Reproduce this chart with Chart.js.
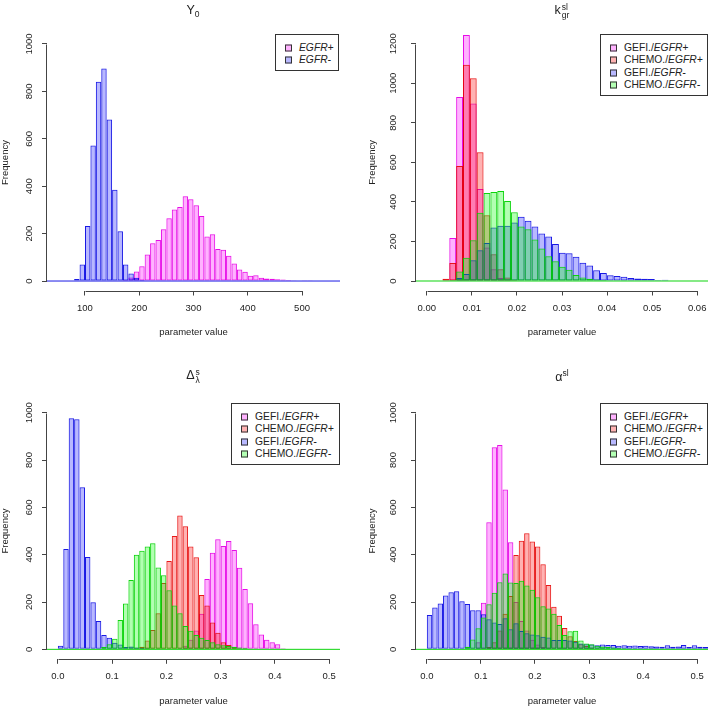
<!DOCTYPE html>
<html>
<head>
<meta charset="utf-8">
<script src="https://cdn.jsdelivr.net/npm/chart.js"></script>
<style>
  body { margin: 0; background: #fff; width: 709px; height: 708px; position: relative; overflow: hidden;
         font-family: 'Liberation Sans', Arial, sans-serif; color: #222; }
  canvas { position: absolute; }
  .title { position: absolute; font-size: 12.5px; line-height: 1; white-space: nowrap; transform: translate(-50%, -50%); }
  .title sub, .title sup { font-size: 8.5px; }
  .ss { display: inline-block; vertical-align: middle; font-size: 8.5px; line-height: 8px; margin-left: 1px; }
  .ss span { display: block; }
  .legend { position: absolute; box-sizing: border-box; border: 1px solid #333; background: #fff; font-size: 10.3px; }
  .legend .row { position: absolute; left: 23px; height: 12px; line-height: 12px; white-space: nowrap; transform: translateY(-50%); }
  .legend .sw { position: absolute; left: 9px; width: 7px; height: 7px; box-sizing: border-box; border: 1px solid #333; transform: translateY(-50%); }
</style>
</head>
<body>
<canvas id="c1" width="354" height="354" style="left:0;top:0"></canvas>
<canvas id="c2" width="355" height="354" style="left:354px;top:0"></canvas>
<canvas id="c3" width="354" height="354" style="left:0;top:354px"></canvas>
<canvas id="c4" width="355" height="354" style="left:354px;top:354px"></canvas>

<div class="title" style="left:193px;top:11px">Y<sub>0</sub></div>
<div class="title" style="left:562px;top:11px">k<span class="ss"><span>sl</span><span>gr</span></span></div>
<div class="title" style="left:193px;top:376px">&Delta;<span class="ss"><span>s</span><span>&lambda;</span></span></div>
<div class="title" style="left:562px;top:376px">&alpha;<sup>sl</sup></div>

<script>
// ---- Y0 panel: bins of 10 starting at 80
const y0BinStart = 80;
const y0BinWidth = 10;
const y0EgfrPos = [0, 0, 0, 0, 0, 0, 0, 0, 0, 4, 15, 40, 62, 112, 159, 173, 218, 265, 302, 312, 358, 345, 320, 274,
  188, 197, 135, 132, 107, 74, 49, 39, 22, 24, 14, 11, 10, 7, 6, 4, 3, 2, 1, 1];
const y0EgfrNeg = [8, 70, 232, 572, 841, 897, 681, 385, 210, 70, 32, 14, 4];
const y0XTicks = [100, 200, 300, 400, 500];
const y0XLabels = ['100', '200', '300', '400', '500'];
const y0YTicks = [0, 200, 400, 600, 800, 1000];

// ---- k_gr^sl panel
const kgrBinStart = 0.00347;
const kgrBinWidth = 0.00152;
const kgrGefiPos = [5, 217, 930, 1244, 897, 465, 170, 60, 15, 5, 2];
const kgrChemoPos = [12, 91, 582, 1093, 1025, 651, 333, 135, 60, 18, 5, 2];
const kgrGefiNeg = [0, 3, 15, 35, 105, 155, 192, 270, 280, 280, 296, 325, 305, 275, 240, 225, 187, 143, 140, 123,
  92, 79, 55, 40, 29, 25, 22, 15, 13, 12, 10, 5, 6, 3, 3, 2];
const kgrChemoNeg = [0, 5, 48, 118, 206, 345, 445, 450, 455, 405, 348, 275, 262, 210, 165, 125, 100, 72, 57, 30,
  18, 12, 8, 5, 3, 2, 1];
const kgrXTicks = [0, 0.01, 0.02, 0.03, 0.04, 0.05, 0.06];
const kgrXLabels = ['0.00', '0.01', '0.02', '0.03', '0.04', '0.05', '0.06'];
const kgrYTicks = [0, 200, 400, 600, 800, 1000, 1200];

// ---- Delta_lambda^s panel: bins of 0.01 from 0
const dlBinStart = 0;
const dlBinWidth = 0.01;
const dlGefiPos = [0, 0, 0, 0, 0, 0, 0, 0, 0, 0, 0, 0, 0, 0, 0, 0, 0, 0, 0, 0, 0, 0,
  5, 15, 40, 80, 150, 297, 408, 465, 437, 458, 420, 345, 255, 195, 106, 63, 40, 30, 21, 5, 2];
const dlChemoPos = [0, 0, 0, 0, 0, 0, 0, 0, 0, 0, 0, 0, 0,
  2, 5, 11, 37, 82, 152, 280, 373, 479, 566, 520, 435, 389, 230, 185, 113, 70, 30, 18, 8, 3, 1];
const dlGefiNeg = [15, 424, 976, 972, 685, 390, 199, 120, 61, 49, 28, 20, 10, 12, 8, 6, 5, 4, 3, 3, 2, 2, 1, 1];
const dlChemoNeg = [0, 0, 0, 0, 0, 0, 0, 3, 10, 22, 45, 124, 194, 293, 400, 417, 434, 448, 346, 313, 250, 185,
  152, 99, 79, 61, 49, 39, 30, 22, 17, 14, 11, 8, 6, 4, 3, 2, 1];
const dlXTicks = [0, 0.1, 0.2, 0.3, 0.4, 0.5];
const dlXLabels = ['0.0', '0.1', '0.2', '0.3', '0.4', '0.5'];
const dlYTicks = [0, 200, 400, 600, 800, 1000];

// ---- alpha^sl panel: bins of 0.01 from 0
const alBinStart = 0;
const alBinWidth = 0.01;
const alGefiPos = [0, 0, 0, 0, 0, 0, 0, 0, 0, 30, 197, 537, 854, 863, 675, 452, 200, 120, 80, 40, 20, 10, 5];
const alChemoPos = [0, 0, 0, 0, 0, 0, 0, 0, 0, 0, 3, 10, 30, 80, 150, 225, 399, 459, 490, 456, 434, 359, 272, 180,
  142, 90, 55, 35, 22, 14, 8, 5, 3, 2];
const alGefiNeg = [145, 177, 194, 227, 241, 245, 203, 192, 165, 165, 148, 127, 113, 107, 131, 85, 110, 77, 68, 63,
  60, 53, 50, 39, 39, 39, 37, 32, 25, 22, 20, 17, 20, 18, 18, 15, 17, 15, 16, 14, 15, 13, 12, 11, 17, 11, 12, 18,
  10, 17, 11, 10];
const alChemoNeg = [0, 0, 0, 0, 0, 0, 3, 11, 42, 89, 135, 190, 239, 283, 320, 282, 280, 290, 270, 252, 220, 182,
  173, 150, 103, 61, 76, 79, 37, 25, 22, 15, 12, 10, 8, 6, 5, 4, 3, 2, 2, 1];
const alXTicks = [0, 0.1, 0.2, 0.3, 0.4, 0.5];
const alXLabels = ['0.0', '0.1', '0.2', '0.3', '0.4', '0.5'];
const alYTicks = [0, 200, 400, 600, 800, 1000];

const FONT = "'Liberation Sans', Arial, sans-serif";
const axisColor = '#444';
const textColor = '#222';

const colors = {
  pink:  { fill: 'rgba(255, 0, 255, 0.3)', line: 'rgba(230, 0, 230, 0.95)' },
  red:   { fill: 'rgba(255, 0, 0, 0.3)',   line: 'rgba(230, 0, 0, 0.9)' },
  blue:  { fill: 'rgba(0, 0, 255, 0.28)',  line: 'rgba(0, 0, 225, 0.9)' },
  green: { fill: 'rgba(0, 255, 0, 0.3)',   line: 'rgba(0, 210, 0, 0.95)' }
};

// R style axis lines: only from the first to the last tick
const rAxisLines = {
  id: 'rAxisLines',
  afterDraw(chart) {
    const { ctx, chartArea, scales: { x, y } } = chart;
    const xt = x.ticks, yt = y.ticks;
    ctx.save();
    ctx.strokeStyle = axisColor;
    ctx.lineWidth = 1;
    ctx.beginPath();
    const yb = Math.round(chartArea.bottom) + 0.5;
    ctx.moveTo(Math.round(x.getPixelForValue(xt[0].value)) + 0.5, yb);
    ctx.lineTo(Math.round(x.getPixelForValue(xt[xt.length - 1].value)) + 0.5, yb);
    const xl = Math.round(chartArea.left) - 0.5;
    ctx.moveTo(xl, Math.round(y.getPixelForValue(yt[0].value)) + 0.5);
    ctx.lineTo(xl, Math.round(y.getPixelForValue(yt[yt.length - 1].value)) + 0.5);
    ctx.stroke();
    ctx.restore();
  }
};

const panels = [
  {
    id: 'c1', binStart: y0BinStart, binWidth: y0BinWidth,
    series: [
      { pre: '', it: 'EGFR+', counts: y0EgfrPos, color: 'pink' },
      { pre: '', it: 'EGFR-', counts: y0EgfrNeg, color: 'blue' }
    ],
    xMin: 30, xMax: 570, yMin: -40, yMax: 1040,
    xTicks: y0XTicks, xLabels: y0XLabels, yTicks: y0YTicks,
    yAxisW: 47, padRight: 14, padTop: 34.5, padBottom: 15.5, yTickPad: 2, yTitlePad: 0,
    legend: { left: 275, top: 34, width: 64, height: 37 }
  },
  {
    id: 'c2', binStart: kgrBinStart, binWidth: kgrBinWidth,
    series: [
      { pre: 'GEFI./', it: 'EGFR+', counts: kgrGefiPos, color: 'pink' },
      { pre: 'CHEMO./', it: 'EGFR+', counts: kgrChemoPos, color: 'red' },
      { pre: 'GEFI./', it: 'EGFR-', counts: kgrGefiNeg, color: 'blue' },
      { pre: 'CHEMO./', it: 'EGFR-', counts: kgrChemoNeg, color: 'green' }
    ],
    xMin: -0.0024, xMax: 0.0624, yMin: -48, yMax: 1248,
    xTicks: kgrXTicks, xLabels: kgrXLabels, yTicks: kgrYTicks,
    yAxisW: 62, padRight: 1, padTop: 34.2, padBottom: 15.5, yTickPad: 7, yTitlePad: 13,
    legend: { left: 600, top: 34, width: 108, height: 62 }
  },
  {
    id: 'c3', binStart: dlBinStart, binWidth: dlBinWidth,
    series: [
      { pre: 'GEFI./', it: 'EGFR+', counts: dlGefiPos, color: 'pink' },
      { pre: 'CHEMO./', it: 'EGFR+', counts: dlChemoPos, color: 'red' },
      { pre: 'GEFI./', it: 'EGFR-', counts: dlGefiNeg, color: 'blue' },
      { pre: 'CHEMO./', it: 'EGFR-', counts: dlChemoNeg, color: 'green' }
    ],
    xMin: -0.02, xMax: 0.52, yMin: -40, yMax: 1040,
    xTicks: dlXTicks, xLabels: dlXLabels, yTicks: dlYTicks,
    yAxisW: 47, padRight: 14, padTop: 49.2, padBottom: 1.2, yTickPad: 2, yTitlePad: 0,
    legend: { left: 231, top: 403, width: 109, height: 62 }
  },
  {
    id: 'c4', binStart: alBinStart, binWidth: alBinWidth,
    series: [
      { pre: 'GEFI./', it: 'EGFR+', counts: alGefiPos, color: 'pink' },
      { pre: 'CHEMO./', it: 'EGFR+', counts: alChemoPos, color: 'red' },
      { pre: 'GEFI./', it: 'EGFR-', counts: alGefiNeg, color: 'blue' },
      { pre: 'CHEMO./', it: 'EGFR-', counts: alChemoNeg, color: 'green' }
    ],
    xMin: -0.02, xMax: 0.52, yMin: -40, yMax: 1040,
    xTicks: alXTicks, xLabels: alXLabels, yTicks: alYTicks,
    yAxisW: 62, padRight: 1, padTop: 49.2, padBottom: 1.2, yTickPad: 7, yTitlePad: 13,
    legend: { left: 600, top: 403, width: 108, height: 62 }
  }
];

function buildLegend(p) {
  const box = document.createElement('div');
  box.className = 'legend';
  Object.assign(box.style, {
    left: p.legend.left + 'px', top: p.legend.top + 'px',
    width: p.legend.width + 'px', height: p.legend.height + 'px'
  });
  p.series.forEach((s, i) => {
    const cy = 12.5 + 12.5 * i;
    const sw = document.createElement('div');
    sw.className = 'sw';
    sw.style.top = cy + 'px';
    sw.style.background = colors[s.color].fill;
    const row = document.createElement('div');
    row.className = 'row';
    row.style.top = cy + 'px';
    row.innerHTML = `${s.pre}<i>${s.it}</i>`;
    box.appendChild(sw);
    box.appendChild(row);
  });
  document.body.appendChild(box);
}

function makeChart(p) {
  const n = p.series.length;
  const datasets = p.series.map((s, k) => ({
    type: 'bar',
    label: s.pre + s.it,
    data: s.counts
      .map((c, i) => ({ x: p.binStart + p.binWidth * (i + 0.5), y: c }))
      .filter(d => d.y > 0),
    backgroundColor: colors[s.color].fill,
    borderColor: colors[s.color].line,
    borderWidth: 1,
    borderSkipped: false,
    inflateAmount: 0,
    grouped: false,
    barPercentage: 1,
    categoryPercentage: 1,
    order: n - k
  }));
  const last = p.series[n - 1];
  datasets.push({
    type: 'line',
    data: [{ x: p.xMin, y: 0 }, { x: p.xMax, y: 0 }],
    borderColor: colors[last.color].line,
    borderWidth: 1,
    pointRadius: 0,
    order: 0
  });

  new Chart(document.getElementById(p.id), {
    type: 'bar',
    data: { datasets },
    options: {
      responsive: false,
      animation: false,
      devicePixelRatio: 1,
      layout: { padding: { left: 0, right: p.padRight, top: p.padTop, bottom: p.padBottom } },
      plugins: { legend: { display: false }, tooltip: { enabled: false } },
      scales: {
        x: {
          type: 'linear', min: p.xMin, max: p.xMax, bounds: 'data', offset: false,
          afterBuildTicks: s => { s.ticks = p.xTicks.map(v => ({ value: v })); },
          afterFit: s => { s.height = 48; s.paddingLeft = 0; s.paddingRight = 0; },
          grid: { display: true, drawOnChartArea: false, drawTicks: true, tickLength: 5, color: axisColor, offset: false },
          border: { display: false },
          ticks: {
            autoSkip: false, maxRotation: 0, padding: 7, color: textColor,
            font: { family: FONT, size: 9.5 },
            callback: (v, i) => p.xLabels[i]
          },
          title: { display: true, text: 'parameter value', color: textColor,
                   font: { family: FONT, size: 9.5 }, padding: { top: 0, bottom: 0 } }
        },
        y: {
          type: 'linear', min: p.yMin, max: p.yMax, bounds: 'data',
          afterBuildTicks: s => { s.ticks = p.yTicks.map(v => ({ value: v })); },
          afterFit: s => { s.width = p.yAxisW; s.paddingTop = 0; s.paddingBottom = 0; },
          grid: { display: true, drawOnChartArea: false, drawTicks: true, tickLength: 5, color: axisColor },
          border: { display: false },
          ticks: {
            autoSkip: false, minRotation: 90, maxRotation: 90, crossAlign: 'center',
            padding: p.yTickPad, color: textColor, font: { family: FONT, size: 9.5 },
            callback: v => String(v)
          },
          title: { display: true, text: 'Frequency', color: textColor,
                   font: { family: FONT, size: 9.5 }, padding: { top: p.yTitlePad, bottom: 0 } }
        }
      }
    },
    plugins: [rAxisLines]
  });
}

panels.forEach(p => {
  makeChart(p);
  buildLegend(p);
});
</script>
</body>
</html>
